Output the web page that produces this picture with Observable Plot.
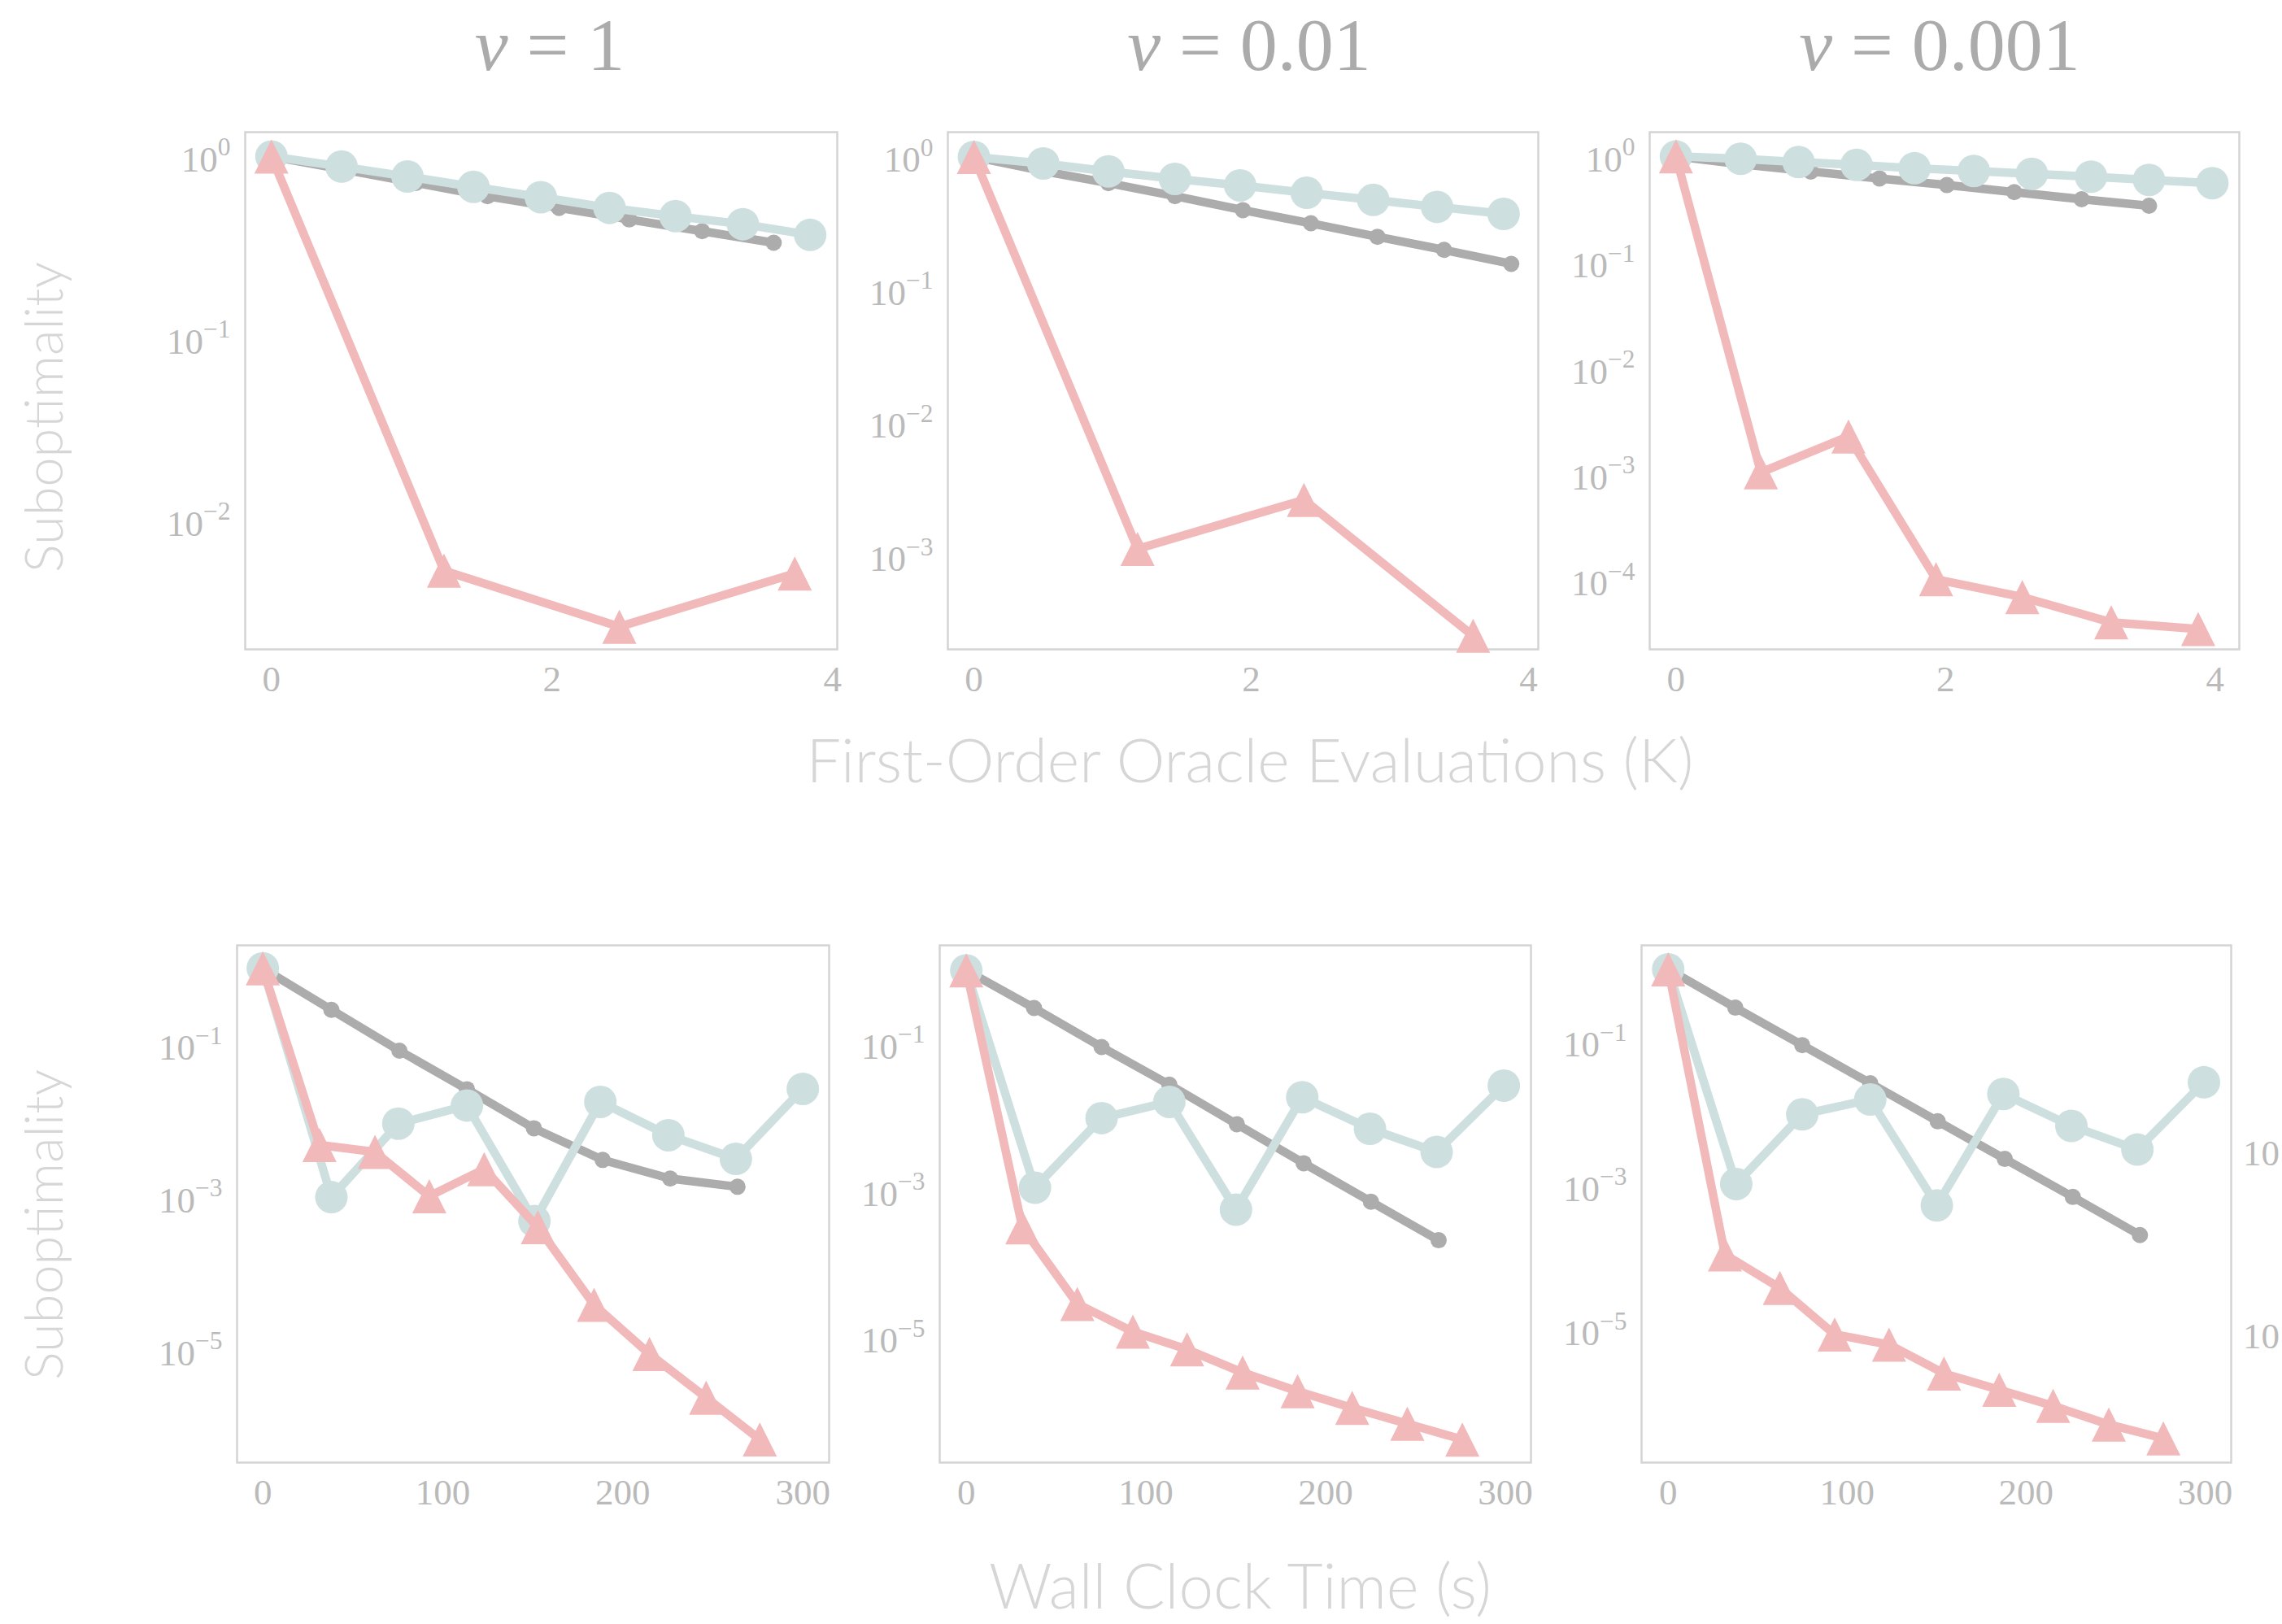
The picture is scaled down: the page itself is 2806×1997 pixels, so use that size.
<!DOCTYPE html>
<html><head><meta charset="utf-8">
<script src="https://cdn.jsdelivr.net/npm/d3@7"></script>
<script src="https://cdn.jsdelivr.net/npm/@observablehq/plot@0.6"></script>
<style>
html,body{margin:0;padding:0;background:#fff;}
#root{position:relative;width:2806px;height:1997px;overflow:hidden;background:#fff;}
</style></head><body><div id="root"></div>
<script>
// ---------- data ----------
const nuLabels = ["1", "0.01", "0.001"];
const topXTicks = [0, 2, 4];
const botXTicks = [0, 100, 200, 300];
const top1YTicks = [1, 0.1, 0.01];
const top2YTicks = [1, 0.1, 0.01, 0.001];
const top3YTicks = [1, 0.1, 0.01, 0.001, 0.0001];
const botYTicks = [0.1, 0.001, 0.00001];

// top row: first-order oracle evaluations (K)
const top1GrayX = [0, 0.51, 1.03, 1.54, 2.05, 2.55, 3.07, 3.58];
const top1GrayY = [1, 0.85, 0.716, 0.605, 0.522, 0.451, 0.389, 0.336];
const top1CyanX = [0, 0.5, 0.97, 1.44, 1.92, 2.41, 2.88, 3.36, 3.84];
const top1CyanY = [1, 0.88, 0.776, 0.681, 0.598, 0.522, 0.47, 0.425, 0.371];
const top1PinkX = [0, 1.23, 2.48, 3.73];
const top1PinkY = [1, 0.00532, 0.00262, 0.00513];

const top2GrayX = [0, 0.49, 0.97, 1.45, 1.94, 2.43, 2.91, 3.39, 3.875];
const top2GrayY = [1, 0.785, 0.635, 0.507, 0.398, 0.317, 0.251, 0.2, 0.157];
const top2CyanX = [0, 0.5, 0.97, 1.45, 1.92, 2.40, 2.88, 3.34, 3.82];
const top2CyanY = [1, 0.893, 0.778, 0.684, 0.611, 0.537, 0.475, 0.421, 0.373];
const top2PinkX = [0, 1.18, 2.38, 3.60];
const top2PinkY = [1, 0.00113, 0.00264, 0.000251];

const top3GrayX = [0, 0.5, 1.0, 1.51, 2.01, 2.51, 3.01, 3.51];
const top3GrayY = [1, 0.841, 0.721, 0.62, 0.537, 0.461, 0.395, 0.343];
const top3CyanX = [0, 0.48, 0.91, 1.34, 1.77, 2.21, 2.64, 3.08, 3.51, 3.98];
const top3CyanY = [1, 0.95, 0.885, 0.832, 0.774, 0.729, 0.686, 0.645, 0.601, 0.56];
const top3PinkX = [0, 0.63, 1.28, 1.93, 2.57, 3.23, 3.875];
const top3PinkY = [1, 0.00105, 0.00229, 0.000103, 0.000070, 0.0000404, 0.0000350];

// bottom row: wall clock time (s)
const bot1GrayX = [0, 38.1, 75.9, 113.4, 150.6, 188.8, 226.3, 263.7];
const bot1GrayY = [1, 0.286, 0.0834, 0.0261, 0.00805, 0.0031, 0.00177, 0.00138];
const bot1CyanX = [0, 38.1, 75.3, 113.4, 150.9, 187.5, 225.3, 262.8, 300.0];
const bot1CyanY = [1, 0.00101, 0.00927, 0.016, 0.00049, 0.01786, 0.00653, 0.0032, 0.0264];
const bot1PinkX = [0, 31.5, 62.3, 92.5, 123, 152.8, 184, 214.8, 246.3, 276.1];
const bot1PinkY = [1, 0.00486, 0.00394, 0.00104, 0.00235, 0.000408, 0.0000394, 0.00000893, 0.0000024, 0.00000068];

const bot2GrayX = [0, 37.7, 75.3, 113, 150.6, 187.8, 225.2, 262.9];
const bot2GrayY = [1, 0.307, 0.0904, 0.0278, 0.00805, 0.00237, 0.00071, 0.000212];
const bot2CyanX = [0, 38.2, 75.3, 113, 150.1, 187, 224.7, 261.8, 299.2];
const bot2CyanY = [1, 0.0011, 0.00975, 0.0162, 0.000553, 0.01875, 0.00697, 0.00337, 0.027];
const bot2PinkX = [0, 31.2, 61.8, 92.7, 122.9, 153.8, 184.4, 214.8, 245.5, 276.1];
const bot2PinkY = [1, 0.000318, 0.0000288, 0.0000121, 0.00000693, 0.00000335, 0.00000187, 0.00000111, 0.000000675, 0.000000411];

const bot3GrayX = [0, 37.5, 74.9, 112.9, 150.6, 188.1, 226.1, 263.6];
const bot3GrayY = [1, 0.294, 0.0889, 0.0264, 0.00783, 0.00236, 0.000702, 0.000208];
const bot3CyanX = [0, 38, 74.9, 112.9, 150.1, 187.3, 225.3, 262.2, 299.4];
const bot3CyanY = [1, 0.00106, 0.00977, 0.0157, 0.000537, 0.01875, 0.00676, 0.00318, 0.0272];
const bot3PinkX = [0, 31.7, 62.4, 93, 123.4, 154.1, 185, 215.1, 246.2, 276.7];
const bot3PinkY = [1, 0.000112, 0.0000385, 0.00000875, 0.00000632, 0.00000252, 0.0000015, 0.000000895, 0.000000495, 0.000000318];

// ---------- styles ----------
const grayColor = "#acacac";
const cyanColor = "#cde0df";
const pinkColor = "#f1b9ba";
const frameColor = "#d4d4d4";
const tickColor = "#bababa";
const titleColor = "#ababab";
const labelColor = "#d6d6d6";
const serif = "'Liberation Serif','DejaVu Serif',serif";
const sans = "Lato,'Open Sans','Noto Sans',sans-serif";

// matplotlib-like "^" marker: bbox-centred, width = height
const mplTriangle = {
  draw(ctx, size) {
    const a = Math.sqrt(size / Math.PI);
    ctx.moveTo(0, -a); ctx.lineTo(a, a); ctx.lineTo(-a, a); ctx.closePath();
  }
};

const root = document.getElementById("root");
const NS = "http://www.w3.org/2000/svg";
const pts = (X, Y) => X.map((x, i) => ({x, y: Y[i]}));

function panel(cfg) {
  const ml = 220, mr = 40, mt = 40, mb = 90;
  const w = cfg.fx1 - cfg.fx0, h = cfg.fy1 - cfg.fy0;
  const g = pts(cfg.gx, cfg.gy), c = pts(cfg.cx, cfg.cy), p = pts(cfg.px, cfg.py);
  const svg = Plot.plot({
    width: w + ml + mr, height: h + mt + mb,
    marginLeft: ml, marginRight: mr, marginTop: mt, marginBottom: mb,
    style: {background: "transparent", overflow: "visible", fontFamily: serif, color: tickColor, maxWidth: "none"},
    x: {domain: cfg.xDomain},
    y: {type: "log", domain: cfg.yDomain},
    marks: [
      Plot.frame({stroke: frameColor, strokeWidth: 2.5}),
      Plot.axisX({ticks: cfg.xTicks, tickSize: 0, tickPadding: 20, fontSize: 45, tickFormat: d => String(d), label: null}),
      Plot.axisY({ticks: cfg.yTicks, tickSize: 0, tickPadding: 18, fontSize: 45, dy: 4,
        tickFormat: d => "10^" + Math.round(Math.log10(d)), label: null}),
      Plot.line(g, {x: "x", y: "y", stroke: grayColor, strokeWidth: 10.5}),
      Plot.dot(g, {x: "x", y: "y", r: 10, fill: grayColor}),
      Plot.line(c, {x: "x", y: "y", stroke: cyanColor, strokeWidth: 10.5}),
      Plot.dot(c, {x: "x", y: "y", r: 20, fill: cyanColor}),
      Plot.line(p, {x: "x", y: "y", stroke: pinkColor, strokeWidth: 10.5}),
      Plot.dot(p, {x: "x", y: "y", r: 21, fill: pinkColor, symbol: mplTriangle})
    ]
  });
  // superscript exponents
  svg.querySelectorAll('[aria-label="y-axis tick label"] text').forEach(t => {
    const m = t.textContent.match(/^10\^(-?\d+)$/);
    if (!m) return;
    t.textContent = "10";
    const ts = document.createElementNS(NS, "tspan");
    ts.setAttribute("dy", "-0.62em");
    ts.setAttribute("font-size", "70%");
    ts.textContent = m[1].replace("-", "\u2212");
    t.appendChild(ts);
  });
  svg.style.position = "absolute";
  svg.style.left = (cfg.fx0 - ml) + "px";
  svg.style.top = (cfg.fy0 - mt) + "px";
  root.appendChild(svg);
}

const topY0 = 162, topY1 = 798, botY0 = 1162, botY1 = 1798;
panel({fx0: 301, fx1: 1029, fy0: topY0, fy1: topY1, xDomain: [-0.187, 4.033], yDomain: [Math.pow(10, -2.706), Math.pow(10, 0.1335)],
  xTicks: topXTicks, yTicks: top1YTicks, gx: top1GrayX, gy: top1GrayY, cx: top1CyanX, cy: top1CyanY, px: top1PinkX, py: top1PinkY});
panel({fx0: 1165, fx1: 1891, fy0: topY0, fy1: topY1, xDomain: [-0.188, 4.07], yDomain: [Math.pow(10, -3.702), Math.pow(10, 0.186)],
  xTicks: topXTicks, yTicks: top2YTicks, gx: top2GrayX, gy: top2GrayY, cx: top2CyanX, cy: top2CyanY, px: top2PinkX, py: top2PinkY});
panel({fx0: 2028, fx1: 2753, fy0: topY0, fy1: topY1, xDomain: [-0.195, 4.18], yDomain: [Math.pow(10, -4.648), Math.pow(10, 0.229)],
  xTicks: topXTicks, yTicks: top3YTicks, gx: top3GrayX, gy: top3GrayY, cx: top3CyanX, cy: top3CyanY, px: top3PinkX, py: top3PinkY});
panel({fx0: 291, fx1: 1019, fy0: botY0, fy1: botY1, xDomain: [-14.3, 314.6], yDomain: [Math.pow(10, -6.47), Math.pow(10, 0.30)],
  xTicks: botXTicks, yTicks: botYTicks, gx: bot1GrayX, gy: bot1GrayY, cx: bot1CyanX, cy: bot1CyanY, px: bot1PinkX, py: bot1PinkY});
panel({fx0: 1155, fx1: 1882, fy0: botY0, fy1: botY1, xDomain: [-14.8, 314.3], yDomain: [Math.pow(10, -6.70), Math.pow(10, 0.34)],
  xTicks: botXTicks, yTicks: botYTicks, gx: bot2GrayX, gy: bot2GrayY, cx: bot2CyanX, cy: bot2CyanY, px: bot2PinkX, py: bot2PinkY});
panel({fx0: 2018, fx1: 2743, fy0: botY0, fy1: botY1, xDomain: [-14.9, 314.6], yDomain: [Math.pow(10, -6.833), Math.pow(10, 0.331)],
  xTicks: botXTicks, yTicks: botYTicks, gx: bot3GrayX, gy: bot3GrayY, cx: bot3CyanX, cy: bot3CyanY, px: bot3PinkX, py: bot3PinkY});

// ---------- overlay texts ----------
const ov = d3.select(root).append("svg")
  .attr("width", 2806).attr("height", 1997)
  .style("position", "absolute").style("left", "0px").style("top", "0px").style("pointer-events", "none");

const titleX = [676, 1536, 2385];
nuLabels.forEach((v, i) => {
  const t = ov.append("text").attr("x", titleX[i]).attr("y", 86).attr("text-anchor", "middle")
    .attr("font-family", serif).attr("font-size", 92).attr("fill", titleColor);
  t.append("tspan").attr("font-style", "italic").text("\u03bd");
  t.append("tspan").text(" = " + v);
});

function fitLabel(sel, target) {
  const len = sel.node().getComputedTextLength();
  if (len > 0) sel.attr("font-size", +sel.attr("font-size") * target / len);
}
const xl1 = ov.append("text").attr("x", 1537).attr("y", 962).attr("text-anchor", "middle")
  .attr("font-family", sans).attr("font-weight", 300).attr("font-size", 68).attr("fill", labelColor)
  .text("First-Order Oracle Evaluations (K)");
fitLabel(xl1, 1091);
const xl2 = ov.append("text").attr("x", 1525).attr("y", 1978).attr("text-anchor", "middle")
  .attr("font-family", sans).attr("font-weight", 300).attr("font-size", 68).attr("fill", labelColor)
  .text("Wall Clock Time (s)");
fitLabel(xl2, 618);
[513, 1506].forEach(cy => {
  const yl = ov.append("text").attr("transform", `translate(77,${cy}) rotate(-90)`).attr("text-anchor", "middle")
    .attr("font-family", sans).attr("font-weight", 300).attr("font-size", 68).attr("fill", labelColor)
    .text("Suboptimality");
  fitLabel(yl, 382);
});
// tick labels of a neighbouring panel at the right edge (kept fully visible)
[1433, 1658].forEach(by => {
  ov.append("text").attr("x", 2758).attr("y", by).attr("font-family", serif).attr("font-size", 45)
    .attr("fill", tickColor).text("10");
});
</script></body></html>
